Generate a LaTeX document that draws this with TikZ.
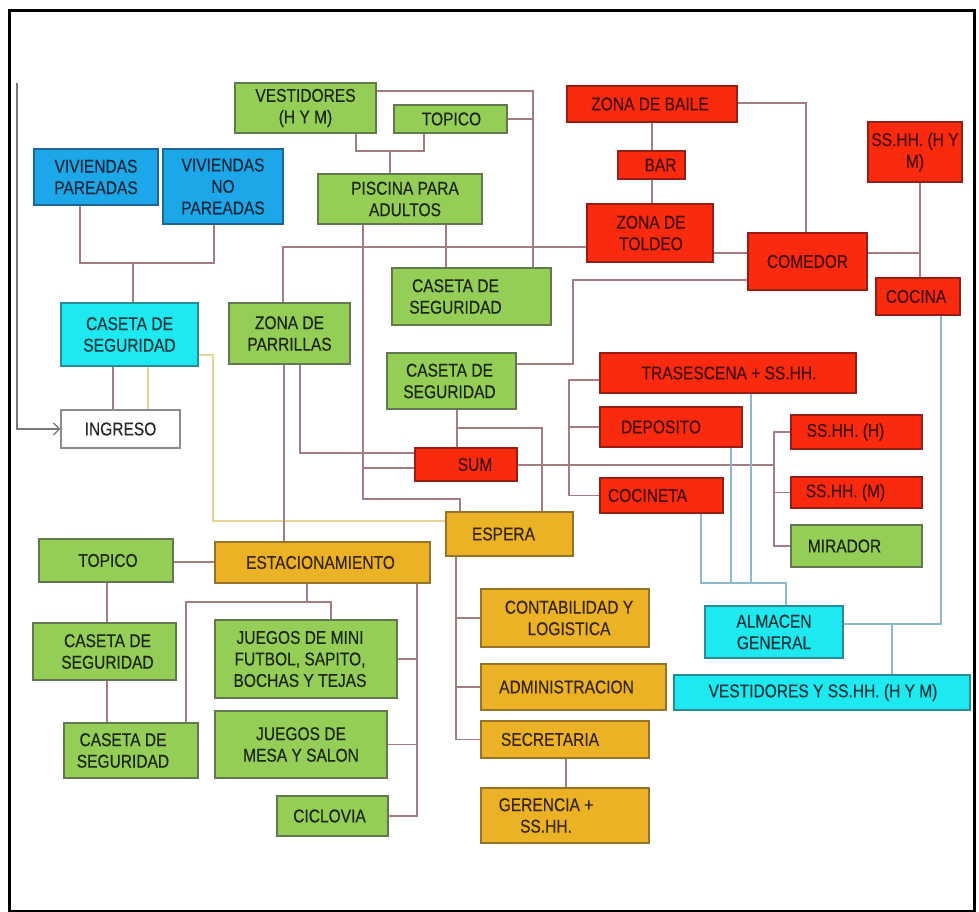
\documentclass[tikz,border=0pt]{standalone}
\usepackage{fontspec}
\setmainfont{Liberation Sans}[FakeStretch=0.84,FakeBold=0.4]
\usetikzlibrary{arrows.meta}
\definecolor{gfill}{RGB}{148,206,86}
\definecolor{gdraw}{RGB}{100,120,80}
\definecolor{gtext}{RGB}{30,38,22}
\definecolor{rfill}{RGB}{250,42,14}
\definecolor{rdraw}{RGB}{150,30,20}
\definecolor{rtext}{RGB}{70,15,10}
\definecolor{ofill}{RGB}{235,178,38}
\definecolor{odraw}{RGB}{150,115,40}
\definecolor{otext}{RGB}{55,38,12}
\definecolor{cfill}{RGB}{30,232,240}
\definecolor{cdraw}{RGB}{40,140,150}
\definecolor{ctext}{RGB}{20,55,60}
\definecolor{bfill}{RGB}{28,168,232}
\definecolor{bdraw}{RGB}{30,100,150}
\definecolor{btext}{RGB}{20,40,60}
\definecolor{wfill}{RGB}{255,255,255}
\definecolor{wdraw}{RGB}{140,140,140}
\definecolor{wtext}{RGB}{40,40,40}
\definecolor{ccol}{RGB}{165,125,128}
\definecolor{lbcol}{RGB}{140,185,205}
\definecolor{ycol}{RGB}{232,212,150}
\definecolor{gycol}{RGB}{120,120,120}
\pgfdeclarelayer{bg}
\pgfsetlayers{bg,main}
\tikzset{
  box/.style={rectangle, line width=1.1pt, inner sep=0pt},
  gbox/.style={box, fill=gfill, draw=gdraw},
  rbox/.style={box, fill=rfill, draw=rdraw},
  obox/.style={box, fill=ofill, draw=odraw},
  cbox/.style={box, fill=cfill, draw=cdraw},
  bbox/.style={box, fill=bfill, draw=bdraw},
  wbox/.style={box, fill=wfill, draw=wdraw},
  txt/.style={inner sep=0pt, align=center, font=\fontsize{18.5}{21.5}\selectfont},
  gtxt/.style={text=gtext}, rtxt/.style={text=rtext}, otxt/.style={text=otext},
  ctxt/.style={text=ctext}, btxt/.style={text=btext}, wtxt/.style={text=wtext},
  conn/.style={draw=ccol, line width=1.4pt},
  bconn/.style={draw=lbcol, line width=1.4pt},
  yconn/.style={draw=ycol, line width=1.4pt},
  gconn/.style={draw=gycol, line width=1.3pt},
}
% name, kind, x1, y1, x2, y2, text xshift, text
\newcommand\bx[8]{%
  \node[#2box, minimum width={#5-#3}, minimum height={#6-#4}] (#1) at ({(#3+#5)/2},{(#4+#6)/2}) {};
  \node[txt,#2txt] (#1t) at ([xshift=#7pt]#1.center) {#8};
}
\begin{document}
\begin{tikzpicture}[x=1pt,y=-1pt]
\useasboundingbox (0,0) rectangle (979,912);

% top group
\bx{vest}{g}{235}{83}{376}{133}{0}{VESTIDORES\\(H Y M)}
\bx{topa}{g}{394}{105}{507}{133}{1}{TOPICO}
\bx{pisc}{g}{318}{174}{482}{224}{5}{PISCINA PARA\\ADULTOS}
\bx{baile}{r}{567}{86}{737}{122}{-2}{ZONA DE BAILE}
\bx{bar}{r}{618}{151}{685}{179}{9}{BAR}
\bx{toldeo}{r}{587}{204}{713}{262}{1}{ZONA DE\\TOLDEO}
\bx{comedor}{r}{748}{233}{867}{290}{0}{COMEDOR}
\bx{sshhhm}{r}{868}{122}{962}{182}{0}{SS.HH. (H Y\\M)}
\bx{cocina}{r}{876}{278}{960}{315}{-2}{COCINA}
\bx{vp}{b}{34}{149}{158}{205}{0}{VIVIENDAS\\PAREADAS}
\bx{vnp}{b}{163}{149}{283}{224}{0}{VIVIENDAS\\NO\\PAREADAS}
\bx{casa}{c}{61}{303}{198}{366}{0}{CASETA DE\\SEGURIDAD}
\bx{ing}{w}{61}{410}{180}{448}{0}{INGRESO}
\bx{parr}{g}{229}{303}{350}{364}{0}{ZONA DE\\PARRILLAS}
\bx{casb}{g}{392}{268}{551}{325}{-16}{CASETA DE\\SEGURIDAD}
\bx{casc}{g}{387}{353}{516}{409}{-2}{CASETA DE\\SEGURIDAD}
\bx{sum}{r}{415}{448}{517}{481}{9}{SUM}
\bx{tras}{r}{600}{353}{856}{393}{1}{TRASESCENA + SS.HH.}
\bx{depo}{r}{600}{407}{742}{447}{-10}{DEPOSITO}
\bx{cocin}{r}{600}{478}{723}{513}{-14}{COCINETA}
\bx{sshh}{r}{791}{415}{922}{449}{-11}{SS.HH. (H)}
\bx{sshm}{r}{791}{477}{922}{508}{-11}{SS.HH. (M)}
\bx{mir}{g}{791}{525}{922}{567}{-12}{MIRADOR}
\bx{esp}{o}{446}{512}{573}{556}{-6}{ESPERA}
\bx{estac}{o}{215}{542}{430}{583}{-2}{ESTACIONAMIENTO}
\bx{topb}{g}{39}{539}{173}{582}{2}{TOPICO}
\bx{casd}{g}{33}{623}{176}{680}{3}{CASETA DE\\SEGURIDAD}
\bx{case}{g}{64}{723}{198}{778}{-8}{CASETA DE\\SEGURIDAD}
\bx{jmini}{g}{215}{620}{397}{698}{-6}{JUEGOS DE MINI\\FUTBOL, SAPITO,\\BOCHAS Y TEJAS}
\bx{jmesa}{g}{215}{711}{387}{778}{0}{JUEGOS DE\\MESA Y SALON}
\bx{cicl}{g}{277}{796}{388}{836}{-3}{CICLOVIA}
\bx{cont}{o}{481}{589}{649}{647}{4}{CONTABILIDAD Y\\LOGISTICA}
\bx{admin}{o}{481}{664}{666}{710}{-7}{ADMINISTRACION}
\bx{secr}{o}{481}{721}{649}{758}{-15}{SECRETARIA}
\bx{ger}{o}{481}{788}{649}{843}{-19}{GERENCIA +\\SS.HH.}
\bx{alm}{c}{705}{606}{843}{658}{0}{ALMACEN\\GENERAL}
\bx{vestb}{c}{674}{675}{970}{710}{1}{VESTIDORES Y SS.HH. (H Y M)}

\coordinate (lefttop) at (17,83);

\begin{pgfonlayer}{bg}
\fill[white] (0,0) rectangle (979,912);
\draw[line width=3pt] (9.5,10.5) rectangle (974,911);
% viviendas
\draw[conn] (vp.south -| 80,0) -- (80,263) -- (214,263) -- (vnp.south -| 214,0);
\draw[conn] (133,263) -- (casa.north -| 133,0);
\draw[conn] (casa.south -| 113,0) -- (ing.north -| 113,0);
\draw[yconn] (casa.south -| 148,0) -- (ing.north -| 148,0);
\draw[yconn] (casa.east |- 0,355) -- (213,355) -- (213,521) -- (esp.west |- 0,521);
\draw[gconn, -{Straight Barb[length=6pt,width=12pt]}] (lefttop) |- (ing.west);
% vestidores / topico / piscina
\draw[conn] (vest.east |- 0,91) -- (533,91) -- (casb.north -| 533,0);
\draw[conn] (topa.east) -- (topa.east -| 533,0);
\draw[conn] (vest.south -| 356,0) -- (356,151) -- (424,151) -- (topa.south -| 424,0);
\draw[conn] (390,151) -- (pisc.north -| 390,0);
\draw[conn] (pisc.south -| 446,0) -- (casb.north -| 446,0);
\draw[conn] (parr.north -| 283,0) -- (283,247) -- (toldeo.west |- 0,247);
\draw[conn] (pisc.south -| 363,0) -- (363,499) -- (460,499) -- (esp.north -| 460,0);
\draw[conn] (363,468) -- (sum.west |- 0,468);
\draw[conn] (parr.south -| 300,0) -- (300,453) -- (sum.west |- 0,453);
\draw[conn] (parr.south -| 284,0) -- (estac.north -| 284,0);
\draw[conn] (casc.east |- 0,364) -- (573,364) -- (573,280) -- (comedor.west |- 0,280);
\draw[conn] (casc.south -| 457,0) -- (sum.north -| 457,0);
\draw[conn] (457,428) -- (542,428) -- (esp.north -| 542,0);
% red zone
\draw[conn] (baile.south -| 652,0) -- (bar.north -| 652,0);
\draw[conn] (bar.south -| 652,0) -- (toldeo.north -| 652,0);
\draw[conn] (baile.east |- 0,103) -- (806,103) -- (comedor.north -| 806,0);
\draw[conn] (toldeo.east |- 0,253) -- (comedor.west |- 0,253);
\draw[conn] (comedor.east |- 0,253) -- (920,253);
\draw[conn] (sshhhm.south -| 920,0) -- (cocina.north -| 920,0);
\draw[conn] (sum.east |- 0,465) -- (774,465);
\draw[conn] (sshh.west) -- (774,432) -- (774,546) -- (mir.west);
\draw[conn] (774,492.5) -- (sshm.west);
\draw[conn] (tras.west |- 0,380) -- (569,380) -- (569,495.5) -- (cocin.west);
\draw[conn] (569,427) -- (depo.west);
% light blue
\draw[bconn] (tras.south -| 751,0) -- (751,583);
\draw[bconn] (depo.south -| 731,0) -- (731,583);
\draw[bconn] (cocin.south -| 701,0) -- (701,583) -- (786,583) -- (alm.north -| 786,0);
\draw[bconn] (cocina.south -| 941,0) -- (941,624) -- (alm.east |- 0,624);
\draw[bconn] (892,624) -- (vestb.north -| 892,0);
% espera
\draw[conn] (esp.south -| 456,0) -- (456,739.5) -- (secr.west);
\draw[conn] (456,618) -- (cont.west);
\draw[conn] (456,687) -- (admin.west);
\draw[conn] (secr.south -| 566,0) -- (ger.north -| 566,0);
% bottom left
\draw[conn] (topb.east |- 0,562) -- (estac.west |- 0,562);
\draw[conn] (topb.south -| 107,0) -- (casd.north -| 107,0);
\draw[conn] (casd.south -| 107,0) -- (case.north -| 107,0);
\draw[conn] (estac.south -| 307,0) -- (307,602);
\draw[conn] (case.north -| 186,0) -- (186,602) -- (331,602) -- (jmini.north -| 331,0);
\draw[conn] (estac.south -| 417,0) -- (417,816) -- (cicl.east);
\draw[conn] (417,659) -- (jmini.east);
\draw[conn] (417,744.5) -- (jmesa.east);
\end{pgfonlayer}
\end{tikzpicture}
\end{document}
